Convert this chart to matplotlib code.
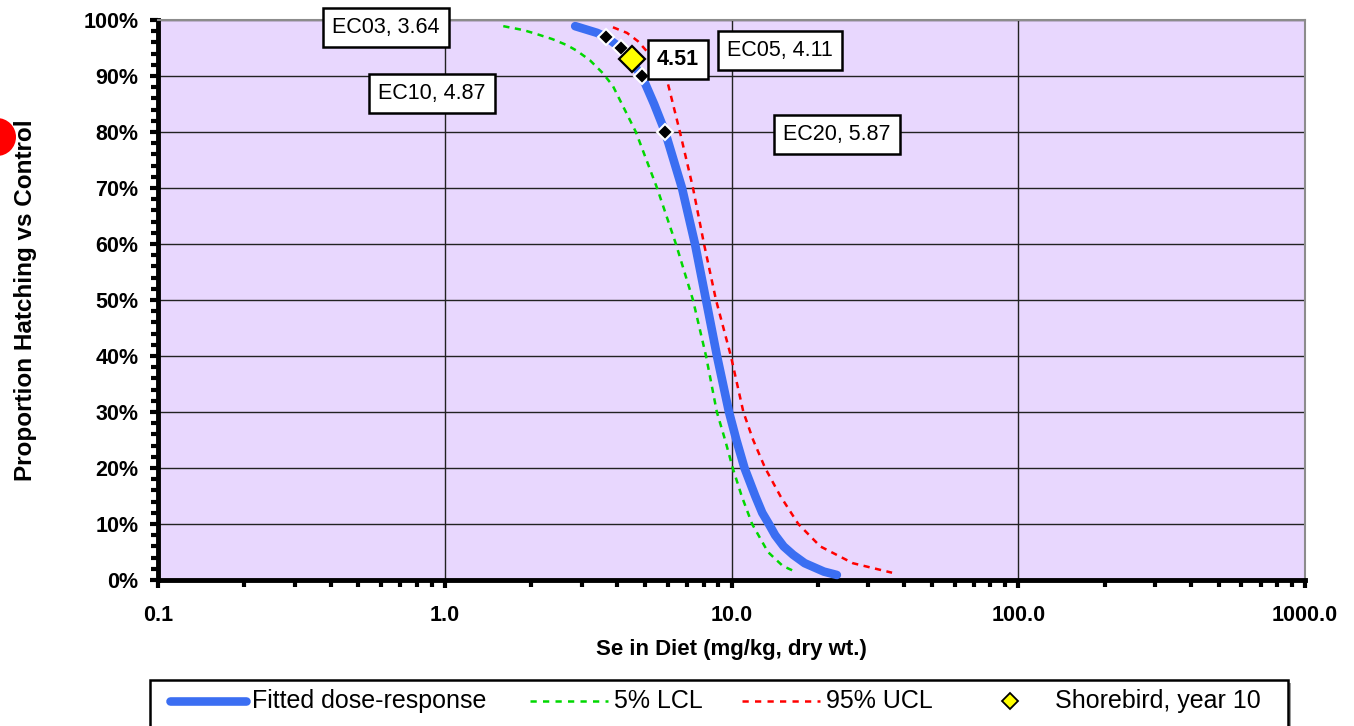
import matplotlib
matplotlib.use("Agg")
import matplotlib.pyplot as plt
from matplotlib.lines import Line2D
from matplotlib.patches import Rectangle, Ellipse
from matplotlib.ticker import FixedLocator, FuncFormatter, MultipleLocator, NullFormatter

plt.rcParams["font.family"] = ["Liberation Sans", "DejaVu Sans"]

# Fitted dose-response
fit_x = [2.85, 3.40, 3.64, 4.11, 4.87, 5.37, 5.87, 6.72, 7.46, 8.15, 8.90, 9.80,
         10.4, 11.1, 12.1, 12.8, 13.5, 14.2, 15.2, 16.4, 18.0, 21.0, 23.3]
fit_y = [0.989, 0.977, 0.97, 0.95, 0.90, 0.85, 0.80, 0.70, 0.60, 0.50, 0.40, 0.30,
         0.25, 0.20, 0.15, 0.12, 0.10, 0.08, 0.06, 0.045, 0.03, 0.015, 0.009]

# 5% lower confidence limit
lcl_x = [1.60, 1.88, 2.06, 2.37, 2.67, 2.89, 3.21, 3.56, 3.86, 4.64, 5.50, 6.40,
         7.34, 8.15, 8.89, 9.50, 10.1, 10.85, 11.8, 13.4, 15.1, 16.5]
lcl_y = [0.989, 0.982, 0.976, 0.966, 0.955, 0.945, 0.928, 0.905, 0.882, 0.80, 0.70, 0.60,
         0.50, 0.40, 0.30, 0.25, 0.20, 0.15, 0.10, 0.05, 0.025, 0.016]

# 95% upper confidence limit
ucl_x = [3.86, 4.32, 4.72, 5.07, 5.32, 5.91, 6.61, 7.34, 8.02, 8.83, 9.95, 11.0,
         11.9, 13.1, 14.8, 17.1, 20.4, 26.5, 36.3]
ucl_y = [0.987, 0.977, 0.962, 0.944, 0.929, 0.90, 0.80, 0.70, 0.60, 0.50, 0.40, 0.30,
         0.25, 0.20, 0.15, 0.10, 0.06, 0.03, 0.013]

# Effect concentrations
ec_names = ["EC03", "EC05", "EC10", "EC20"]
ec_x = [3.64, 4.11, 4.87, 5.87]
ec_y = [0.97, 0.95, 0.90, 0.80]

# Shorebird, year 10
bird_x = [4.51]
bird_y = [0.93]

legend_labels = ["Fitted dose-response", "5% LCL", "95% UCL", "Shorebird, year 10"]

blue = "#3B6EF2"
green = "#00D800"
red = "#FF0000"
W, H = 1354, 726

fig = plt.figure(figsize=(W / 100, H / 100), dpi=100)
ax = fig.add_axes([158 / W, 1 - 580 / H, 1147 / W, 560 / H])
ax.set_facecolor("#E8D7FE")

ax.plot(fit_x, fit_y, color=blue, lw=6.2, solid_capstyle="round",
        solid_joinstyle="round", zorder=3)
ax.plot(lcl_x, lcl_y, color=green, lw=1.8, dashes=(2.5, 2.2), zorder=3)
ax.plot(ucl_x, ucl_y, color=red, lw=1.8, dashes=(2.5, 2.2), zorder=3)
ax.plot(ec_x, ec_y, ls="none", marker="D", ms=8.5, mfc="black", mec="white", mew=1.5, zorder=4)
ax.plot(bird_x, bird_y, ls="none", marker="D", ms=13.5, mfc="#FFFF00", mec="black", mew=1.6, zorder=5)

ax.set_xscale("log")
ax.set_xlim(0.1, 1000)
ax.set_ylim(0, 1)

ax.xaxis.set_major_locator(FixedLocator([0.1, 1, 10, 100, 1000]))
ax.xaxis.set_minor_locator(FixedLocator(
    [m * 10.0 ** e for e in range(-1, 3) for m in range(2, 10)]))
ax.xaxis.set_minor_formatter(NullFormatter())
ax.xaxis.set_major_formatter(FuncFormatter(lambda v, p: f"{v:.1f}"))
ax.yaxis.set_major_locator(MultipleLocator(0.1))
ax.yaxis.set_minor_locator(MultipleLocator(0.02))
ax.yaxis.set_major_formatter(FuncFormatter(lambda v, p: f"{v * 100:.0f}%"))

ax.grid(which="major", color="#222222", lw=1.0)
ax.set_axisbelow(True)
ax.tick_params(which="both", direction="out", width=3, color="black", labelsize=15.5)
ax.tick_params(which="major", length=6)
ax.tick_params(which="minor", length=5)
ax.tick_params(axis="x", pad=12)
ax.tick_params(axis="y", pad=8)
for lab in ax.get_xticklabels() + ax.get_yticklabels():
    lab.set_fontweight("bold")

for side in ("left", "bottom"):
    ax.spines[side].set_linewidth(3.5)
    ax.spines[side].set_color("black")
for side in ("top", "right"):
    ax.spines[side].set_linewidth(1.5)
    ax.spines[side].set_color("#8C8C8C")

ax.set_xlabel("Se in Diet (mg/kg, dry wt.)", fontsize=16, fontweight="bold")
ax.xaxis.set_label_coords(0.5, -(650 - 580) / 560)
ax.xaxis.label.set_verticalalignment("center")
ax.set_ylabel("Proportion Hatching vs Control", fontsize=17.5, fontweight="bold")
ax.yaxis.set_label_coords(-(158 - 26) / 1147, 0.5)
ax.yaxis.label.set_verticalalignment("center")
ax.yaxis.label.set_horizontalalignment("center")

box = dict(boxstyle="square,pad=0.42", fc="white", ec="black", lw=1.8)
label_pos = {"EC03": (0.624, 0.986), "EC05": (14.8, 0.945),
             "EC10": (0.903, 0.868), "EC20": (23.3, 0.795)}
for name, xv in zip(ec_names, ec_x):
    lx, ly = label_pos[name]
    ax.text(lx, ly, f"{name}, {xv:.2f}", ha="center", va="center", fontsize=15.5,
            bbox=box, clip_on=False, zorder=6)
ax.text(6.5, 0.93, f"{bird_x[0]:.2f}", ha="center", va="center", fontsize=15.5,
        fontweight="bold", bbox=box, clip_on=False, zorder=6)

# legend box at the bottom (drawn by hand to keep Excel-like spacing)
fig.add_artist(Rectangle((153 / W, -0.05), 1138 / W, 0.05 + 43 / H,
                         transform=fig.transFigure, fc="#9A9A9A", ec="none"))
fig.add_artist(Rectangle((150 / W, -0.05), 1138 / W, 0.05 + 46 / H,
                         transform=fig.transFigure, fc="white", ec="black", lw=1.8))
ly = 1 - 701 / H
handle_styles = [
    dict(color=blue, lw=6.2, solid_capstyle="round"),
    dict(color=green, lw=1.8, dashes=(2.5, 2.5)),
    dict(color=red, lw=1.8, dashes=(2.5, 2.5)),
]
handle_px = [(170, 246), (530, 608), (742, 820)]
for (x0, x1), st in zip(handle_px, handle_styles):
    fig.add_artist(Line2D([x0 / W, x1 / W], [ly, ly], transform=fig.transFigure, **st))
fig.add_artist(Line2D([1010 / W], [ly], transform=fig.transFigure, ls="none", marker="D",
                      ms=8, mfc="#FFFF00", mec="black", mew=1.3))
for txt, tx in zip(legend_labels, [252, 614, 826, 1055]):
    fig.text(tx / W, ly, txt, ha="left", va="center", fontsize=18)

# red marker at the left edge
fig.add_artist(Ellipse((-3 / W, 1 - 137 / H), 38 / W, 38 / H,
                       transform=fig.transFigure, fc="#FF0000", ec="none"))

fig.savefig("out.png", dpi=100)
